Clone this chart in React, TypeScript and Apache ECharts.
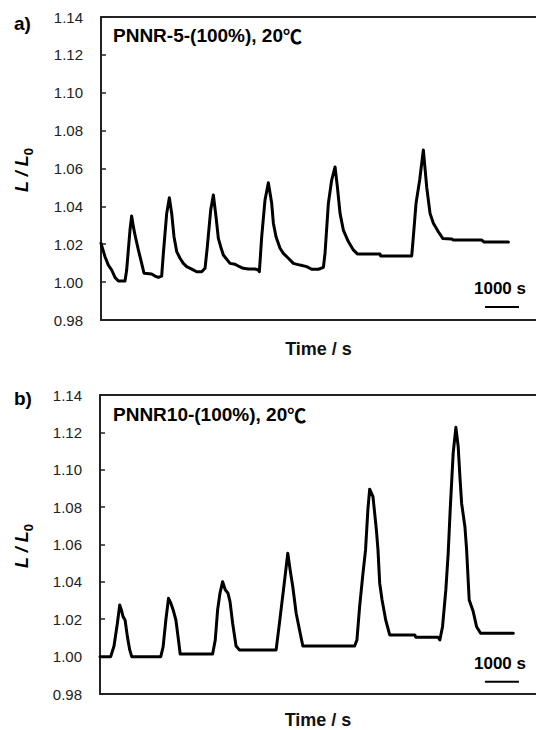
import React, { useEffect, useRef } from "react";
import * as echarts from "echarts";

// Panel a) PNNR-5-(100%), 20℃ — time (s) and L/L0
const timeA = [0, 118, 216, 314, 412, 510, 706, 755, 853, 902, 952, 1001, 1099, 1197, 1266, 1491, 1589, 1687, 1785, 1835, 1933, 2011, 2080, 2148, 2228, 2325, 2423, 2522, 2669, 2816, 2963, 3061, 3129, 3228, 3306, 3384, 3453, 3522, 3600, 3699, 3796, 3944, 4042, 4188, 4335, 4532, 4630, 4660, 4729, 4826, 4924, 5023, 5072, 5150, 5268, 5366, 5513, 5660, 5857, 6053, 6201, 6397, 6544, 6592, 6690, 6788, 6887, 6955, 7034, 7131, 7278, 7425, 7543, 8211, 8231, 9143, 9191, 9270, 9377, 9485, 9585, 9682, 9780, 9927, 10056, 10321, 10369, 11204, 11272, 11988];
const lengthA = [1.0205, 1.0134, 1.009, 1.0064, 1.0025, 1.0006, 1.0006, 1.0064, 1.0275, 1.0349, 1.0293, 1.0249, 1.017, 1.0099, 1.0047, 1.0043, 1.0032, 1.0025, 1.0032, 1.0152, 1.0363, 1.0446, 1.0363, 1.024, 1.0161, 1.0126, 1.0099, 1.0082, 1.0069, 1.0055, 1.0055, 1.0073, 1.0187, 1.0381, 1.046, 1.0346, 1.0231, 1.0187, 1.0143, 1.0121, 1.0099, 1.0094, 1.0085, 1.0073, 1.0069, 1.0069, 1.0064, 1.0055, 1.024, 1.0434, 1.0525, 1.0416, 1.0311, 1.024, 1.0179, 1.0152, 1.0126, 1.0099, 1.009, 1.0082, 1.0068, 1.0068, 1.0078, 1.0152, 1.0416, 1.0539, 1.0608, 1.0504, 1.0363, 1.0275, 1.0214, 1.017, 1.0149, 1.0149, 1.0138, 1.0138, 1.024, 1.0416, 1.0539, 1.0698, 1.05, 1.0363, 1.0311, 1.0266, 1.0231, 1.0228, 1.0222, 1.0222, 1.0212, 1.0212];

// Panel b) PNNR10-(100%), 20℃
const timeB = [0, 314, 412, 510, 579, 628, 677, 736, 804, 873, 932, 1785, 1854, 1933, 2011, 2080, 2148, 2228, 2304, 2354, 3306, 3384, 3453, 3522, 3600, 3679, 3758, 3817, 3894, 3994, 4091, 5171, 5268, 5386, 5513, 5582, 5660, 5759, 5877, 5955, 7475, 7543, 7622, 7720, 7796, 7864, 7917, 8014, 8114, 8161, 8211, 8281, 8388, 8505, 9241, 9270, 9927, 9977, 10056, 10153, 10222, 10281, 10368, 10448, 10516, 10566, 10616, 10713, 10763, 10839, 10957, 11056, 11174, 12134];
const lengthB = [1.0, 1.0, 1.0057, 1.0179, 1.0276, 1.025, 1.0214, 1.0196, 1.0107, 1.0036, 1.0, 1.0, 1.0053, 1.0196, 1.0312, 1.0286, 1.025, 1.0196, 1.0089, 1.0014, 1.0014, 1.0089, 1.025, 1.0339, 1.0401, 1.0357, 1.0339, 1.0294, 1.0179, 1.0057, 1.0036, 1.0036, 1.0179, 1.0357, 1.0553, 1.0464, 1.0374, 1.0232, 1.0125, 1.0057, 1.0057, 1.0089, 1.0267, 1.0446, 1.0571, 1.0785, 1.0896, 1.0856, 1.0678, 1.0571, 1.0393, 1.0303, 1.0196, 1.0116, 1.0116, 1.0104, 1.0104, 1.0089, 1.016, 1.0357, 1.0553, 1.0785, 1.1088, 1.1227, 1.1123, 1.0963, 1.0821, 1.0695, 1.0571, 1.0303, 1.0241, 1.016, 1.0125, 1.0125];

// Scale bar (1000 s)
const scaleBarTime = [11300, 12300];
const scaleBarLevelA = 0.9869;
const scaleBarLevelB = 0.9865;

const yMin = 0.98;
const yMax = 1.14;
const yStep = 0.02;
const timeMax = 12800;

const panelLetters = ["a)", "b)"];
const panelNames = ["PNNR-5-(100%), 20", "PNNR10-(100%), 20"];
const degreeC = "℃";
const xAxisName = "Time / s";
const scaleBarText = "1000 s";

const FONT = "Liberation Sans";
const AXIS_COLOR = "#222";

function zip(xs: number[], ys: number[]) {
  return xs.map((x, i) => [x, ys[i]]);
}

export default function App() {
  const ref = useRef<HTMLDivElement>(null);

  useEffect(() => {
    if (!ref.current) return;
    const chart = echarts.init(ref.current, undefined, { renderer: "svg" });

    const grids = [
      { left: 101, top: 17, right: 0, height: 303, outerBoundsMode: "none", containLabel: false },
      { left: 100, top: 395, right: 0, height: 299, outerBoundsMode: "none", containLabel: false },
    ];

    const mkXBottom = (gi: number, gap: number) => ({
      type: "value",
      gridIndex: gi,
      min: 0,
      max: timeMax,
      position: "bottom",
      axisLine: { show: true, onZero: false, lineStyle: { color: AXIS_COLOR, width: 2 } },
      axisTick: { show: false },
      axisLabel: { show: false },
      splitLine: { show: false },
      name: xAxisName,
      nameLocation: "middle",
      nameGap: gap,
      nameTextStyle: { fontFamily: FONT, fontWeight: "bold", fontSize: 18, lineHeight: 14, color: "#111" },
    });
    const mkXTop = (gi: number) => ({
      type: "value",
      gridIndex: gi,
      min: 0,
      max: timeMax,
      position: "top",
      axisLine: { show: true, onZero: false, lineStyle: { color: AXIS_COLOR, width: 2 } },
      axisTick: { show: false },
      axisLabel: { show: false },
      splitLine: { show: false },
    });
    const mkY = (gi: number) => ({
      type: "value",
      gridIndex: gi,
      min: yMin,
      max: yMax,
      interval: yStep,
      axisLine: { show: true, lineStyle: { color: AXIS_COLOR, width: 2 } },
      axisTick: { show: true, inside: true, length: 5, lineStyle: { color: AXIS_COLOR, width: 1.5 } },
      axisLabel: {
        margin: 18,
        fontFamily: FONT,
        fontSize: 15,
        color: "#222",
        formatter: (v: number) => v.toFixed(2),
      },
      splitLine: { show: false },
    });

    const lineStyle = { color: "#000", width: 3, join: "round", cap: "round" };

    const yName = (y: number) => ({
      type: "text",
      x: 22,
      y,
      rotation: Math.PI / 2,
      style: {
        text: "{a|L / L}{b|0}",
        align: "center",
        verticalAlign: "middle",
        fill: "#000",
        rich: {
          a: { fontFamily: FONT, fontSize: 18, fontWeight: "bold", fontStyle: "italic", lineHeight: 26 },
          b: { fontFamily: FONT, fontSize: 13, fontWeight: "bold", verticalAlign: "bottom", lineHeight: 13 },
        },
      },
    });

    const txt = (text: string, x: number, y: number, size: number, align = "left") => ({
      type: "text",
      x,
      y,
      style: {
        text,
        fontFamily: FONT,
        fontSize: size,
        fontWeight: "bold",
        fill: "#000",
        align,
        verticalAlign: "middle",
      },
    });

    const title = (name: string, x: number, y: number) => ({
      type: "text",
      x,
      y,
      style: {
        text: `{t|${name}}{c|${degreeC}}`,
        align: "left",
        verticalAlign: "middle",
        fill: "#000",
        rich: {
          t: { fontFamily: FONT, fontSize: 19, fontWeight: "bold" },
          c: { fontFamily: "Noto Sans CJK SC", fontSize: 19, fontWeight: "bold" },
        },
      },
    });

    chart.setOption({
      animation: false,
      backgroundColor: "#fff",
      grid: grids,
      xAxis: [mkXBottom(0, 22), mkXTop(0), mkXBottom(1, 19), mkXTop(1)],
      yAxis: [mkY(0), mkY(1)],
      series: [
        {
          type: "line",
          xAxisIndex: 0,
          yAxisIndex: 0,
          data: zip(timeA, lengthA),
          showSymbol: false,
          lineStyle,
        },
        {
          type: "line",
          xAxisIndex: 2,
          yAxisIndex: 1,
          data: zip(timeB, lengthB),
          showSymbol: false,
          lineStyle,
        },
        {
          type: "line",
          xAxisIndex: 0,
          yAxisIndex: 0,
          data: scaleBarTime.map((t) => [t, scaleBarLevelA]),
          showSymbol: false,
          lineStyle: { color: "#000", width: 2 },
        },
        {
          type: "line",
          xAxisIndex: 2,
          yAxisIndex: 1,
          data: scaleBarTime.map((t) => [t, scaleBarLevelB]),
          showSymbol: false,
          lineStyle: { color: "#000", width: 2 },
        },
      ],
      graphic: [
        txt(panelLetters[0], 14, 23, 19),
        txt(panelLetters[1], 14, 398, 19),
        title(panelNames[0], 113, 35),
        title(panelNames[1], 113, 414),
        txt(scaleBarText, 526, 288, 17, "right"),
        txt(scaleBarText, 526, 663, 17, "right"),
        yName(170),
        yName(546),
      ],
    });

    return () => chart.dispose();
  }, []);

  return (
    <div
      ref={ref}
      style={{ position: "absolute", left: 0, top: 0, width: 536, height: 730, background: "#fff" }}
    />
  );
}
